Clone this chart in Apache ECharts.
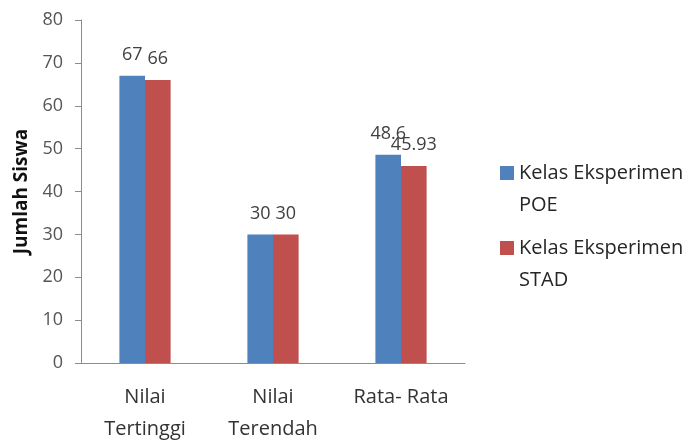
<!DOCTYPE html>
<html>
<head>
<meta charset="utf-8">
<script src="https://cdn.jsdelivr.net/npm/echarts@6/dist/echarts.min.js"></script>
<style>
html,body{margin:0;padding:0;background:#fff;}
#chart{width:694px;height:440px;}
</style>
</head>
<body>
<div id="chart"></div>
<script>
var categories = ['Nilai\nTertinggi', 'Nilai\nTerendah', 'Rata- Rata'];
var seriesNames = ['Kelas Eksperimen\nPOE', 'Kelas Eksperimen\nSTAD'];
var poeValues = [67, 30, 48.6];
var stadValues = [66, 30, 45.93];
var yTicks = [0, 80, 10];

var FONT = 'Open Sans';
var chart = echarts.init(document.getElementById('chart'));
var legendText = { fontFamily: FONT, fontSize: 20, color: '#262626', lineHeight: 32 };
function legendFmt(name) { return '\n' + name; }
chart.setOption({
  animation: false,
  grid: { left: 81, right: 229, top: 20, bottom: 77, containLabel: false, outerBoundsMode: 'none' },
  legend: [
    { data: [seriesNames[0]], orient: 'vertical', left: 500, top: 125, padding: 0,
      icon: 'rect', itemWidth: 14, itemHeight: 14, itemGap: 0, textStyle: legendText, formatter: legendFmt },
    { data: [seriesNames[1]], orient: 'vertical', left: 500, top: 200, padding: 0,
      icon: 'rect', itemWidth: 14, itemHeight: 14, itemGap: 0, textStyle: legendText, formatter: legendFmt }
  ],
  xAxis: {
    type: 'category',
    data: categories,
    axisLine: { lineStyle: { color: '#8c8c8c', width: 1 } },
    axisTick: { show: false },
    axisLabel: { fontFamily: FONT, fontSize: 20, color: '#333', lineHeight: 32, margin: 18, interval: 0 }
  },
  yAxis: {
    type: 'value',
    min: yTicks[0], max: yTicks[1], interval: yTicks[2],
    name: 'Jumlah Siswa',
    nameLocation: 'middle',
    nameGap: 50,
    nameTextStyle: { fontFamily: FONT, fontSize: 19, fontWeight: 'bold', color: '#111' },
    splitLine: { show: false },
    axisLine: { show: true, lineStyle: { color: '#8c8c8c', width: 1 } },
    axisTick: { show: true, length: 6, lineStyle: { color: '#8c8c8c' } },
    axisLabel: { fontFamily: FONT, fontSize: 18, color: '#555', margin: 18 }
  },
  series: [
    { name: seriesNames[0], type: 'bar', data: poeValues, barGap: '0%', barCategoryGap: '60%',
      itemStyle: { color: '#4F81BD' },
      label: { show: true, position: 'top', distance: 12, fontFamily: FONT, fontSize: 18, color: '#404040' } },
    { name: seriesNames[1], type: 'bar', data: stadValues, barGap: '0%', barCategoryGap: '60%',
      itemStyle: { color: '#C0504D' },
      label: { show: true, position: 'top', distance: 12, fontFamily: FONT, fontSize: 18, color: '#404040' } }
  ]
});
</script>
</body>
</html>
